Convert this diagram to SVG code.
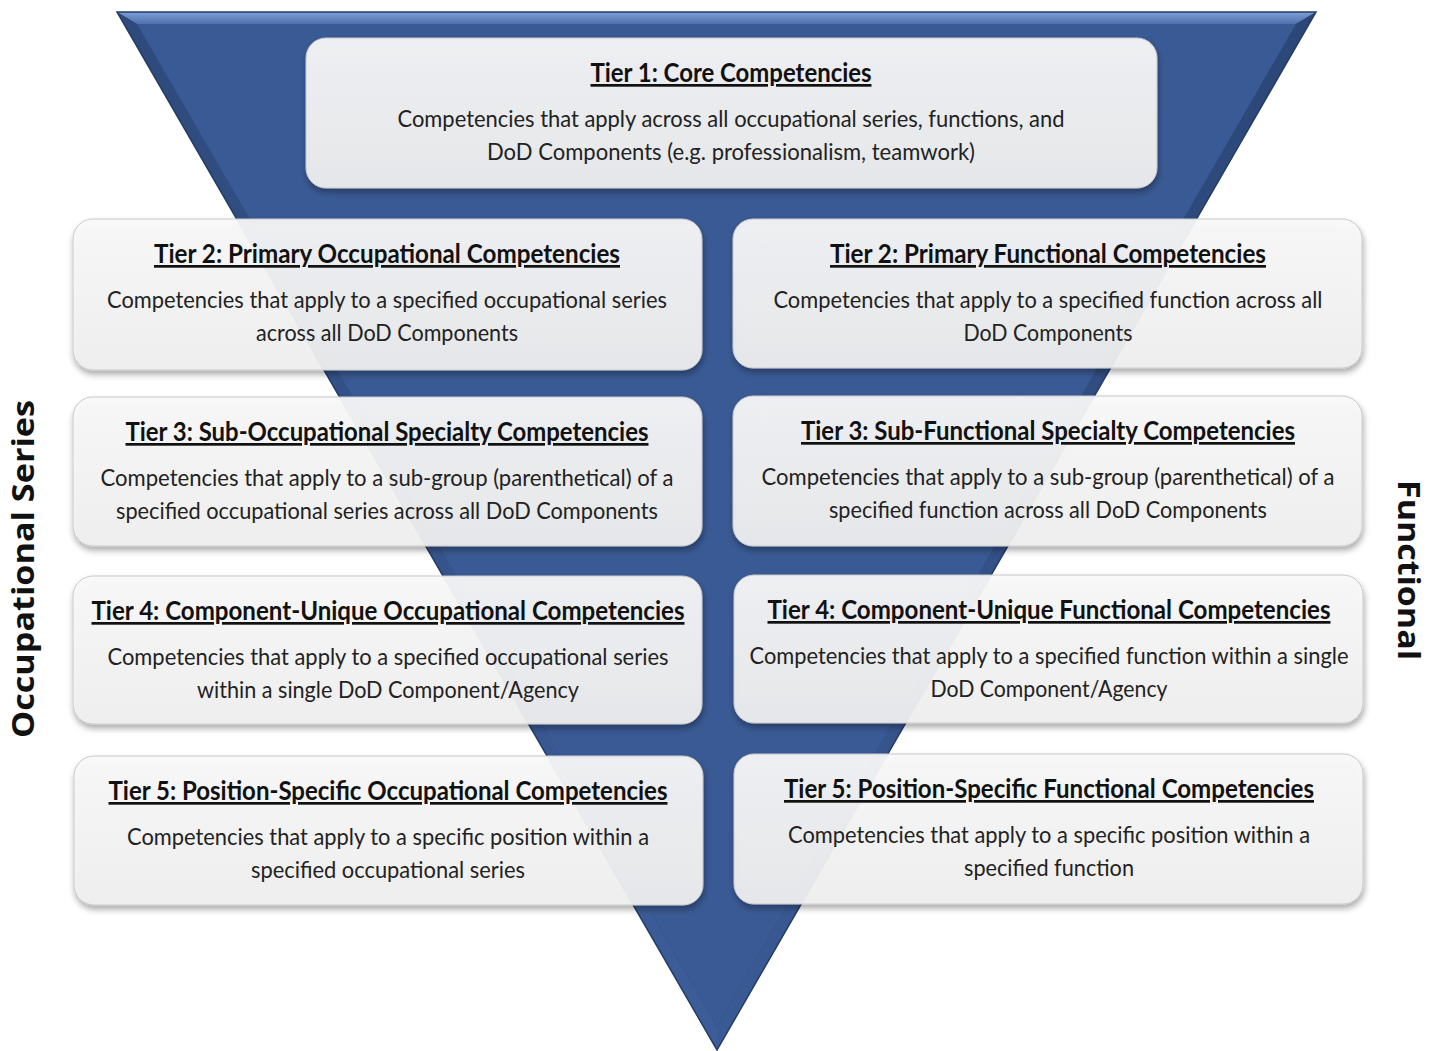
<svg xmlns="http://www.w3.org/2000/svg" width="1435" height="1051" viewBox="0 0 1435 1051">
  <style>
    .box { fill: url(#boxFill); stroke: #c9c9c9; stroke-width: 1; filter: url(#shadow); }
    .title { font-family: Lato, "Open Sans", "Liberation Sans", sans-serif; font-weight: bold; font-size: 27px; fill: #111; text-anchor: middle; text-decoration: underline; }
    .body { font-family: Lato, "Open Sans", "Liberation Sans", sans-serif; font-size: 23px; fill: #222; text-anchor: middle; }
    .side { font-family: "Open Sans", "DejaVu Sans", sans-serif; font-weight: bold; font-size: 31px; fill: #111; text-anchor: middle; }
  </style>
  <defs>
    <linearGradient id="boxFill" x1="0" y1="0" x2="0" y2="1">
      <stop offset="0" stop-color="#f9f9f9" stop-opacity="0.93"/>
      <stop offset="1" stop-color="#f0f0f0" stop-opacity="0.93"/>
    </linearGradient>
    <linearGradient id="topBevel" x1="0" y1="0" x2="0" y2="1">
      <stop offset="0" stop-color="#7e9ed6"/>
      <stop offset="1" stop-color="#4f70ad"/>
    </linearGradient>
    <linearGradient id="leftBevel" x1="0" y1="0" x2="1" y2="0">
      <stop offset="0" stop-color="#2e4a7c"/>
      <stop offset="1" stop-color="#3d5d99"/>
    </linearGradient>
    <linearGradient id="rightBevel" x1="1" y1="0" x2="0" y2="0">
      <stop offset="0" stop-color="#2b4677"/>
      <stop offset="1" stop-color="#3a5a95"/>
    </linearGradient>
    <filter id="shadow" x="-5%" y="-10%" width="110%" height="125%">
      <feDropShadow dx="1" dy="4" stdDeviation="3" flood-color="#000" flood-opacity="0.35"/>
    </filter>
  </defs>

  <!-- inverted pyramid with bevelled rim -->
  <g id="pyramid">
    <polygon points="117,12 1316,12 717,1050" fill="#2c4675"/>
    <polygon points="117,12 1316,12 1296,24 137,24" fill="url(#topBevel)"/>
    <polygon points="117,12 137,24 717,1027 717,1050" fill="url(#leftBevel)"/>
    <polygon points="1316,12 1296,24 717,1027 717,1050" fill="url(#rightBevel)"/>
    <polygon points="137,24 1296,24 717,1027" fill="#3a5a95"/>
    <polygon points="117,12 1316,12 717,1050" fill="none" stroke="#253c66" stroke-width="1.5"/>
  </g>

  <!-- side labels -->
  <text class="side" transform="translate(34,569) rotate(-90)" textLength="338" lengthAdjust="spacingAndGlyphs">Occupational Series</text>
  <text class="side" transform="translate(1398,570) rotate(90)" textLength="180" lengthAdjust="spacingAndGlyphs">Functional</text>

  <g id="tier1">
    <rect class="box" x="306" y="38" width="851" height="150" rx="20"/>
    <text class="title" x="731" y="82" textLength="281" lengthAdjust="spacingAndGlyphs">Tier 1: Core Competencies</text>
    <text class="body" x="731" y="127" textLength="667" lengthAdjust="spacingAndGlyphs">Competencies that apply across all occupational series, functions, and</text>
    <text class="body" x="731" y="160" textLength="488" lengthAdjust="spacingAndGlyphs">DoD Components (e.g. professionalism, teamwork)</text>
  </g>

  <g id="tier2-occupational">
    <rect class="box" x="73" y="219" width="629" height="151" rx="20"/>
    <text class="title" x="387" y="263" textLength="466" lengthAdjust="spacingAndGlyphs">Tier 2: Primary Occupational Competencies</text>
    <text class="body" x="387" y="308" textLength="560" lengthAdjust="spacingAndGlyphs">Competencies that apply to a specified occupational series</text>
    <text class="body" x="387" y="341" textLength="262" lengthAdjust="spacingAndGlyphs">across all DoD Components</text>
  </g>

  <g id="tier2-functional">
    <rect class="box" x="733" y="219" width="629" height="149" rx="20"/>
    <text class="title" x="1048" y="263" textLength="436" lengthAdjust="spacingAndGlyphs">Tier 2: Primary Functional Competencies</text>
    <text class="body" x="1048" y="308" textLength="549" lengthAdjust="spacingAndGlyphs">Competencies that apply to a specified function across all</text>
    <text class="body" x="1048" y="341" textLength="169" lengthAdjust="spacingAndGlyphs">DoD Components</text>
  </g>

  <g id="tier3-occupational">
    <rect class="box" x="73" y="397" width="629" height="149" rx="20"/>
    <text class="title" x="387" y="441" textLength="523" lengthAdjust="spacingAndGlyphs">Tier 3: Sub-Occupational Specialty Competencies</text>
    <text class="body" x="387" y="486" textLength="573" lengthAdjust="spacingAndGlyphs">Competencies that apply to a sub-group (parenthetical) of a</text>
    <text class="body" x="387" y="519" textLength="542" lengthAdjust="spacingAndGlyphs">specified occupational series across all DoD Components</text>
  </g>

  <g id="tier3-functional">
    <rect class="box" x="733" y="396" width="629" height="150" rx="20"/>
    <text class="title" x="1048" y="440" textLength="494" lengthAdjust="spacingAndGlyphs">Tier 3: Sub-Functional Specialty Competencies</text>
    <text class="body" x="1048" y="485" textLength="573" lengthAdjust="spacingAndGlyphs">Competencies that apply to a sub-group (parenthetical) of a</text>
    <text class="body" x="1048" y="518" textLength="438" lengthAdjust="spacingAndGlyphs">specified function across all DoD Components</text>
  </g>

  <g id="tier4-occupational">
    <rect class="box" x="73" y="576" width="629" height="148" rx="20"/>
    <text class="title" x="388" y="620" textLength="593" lengthAdjust="spacingAndGlyphs">Tier 4: Component-Unique Occupational Competencies</text>
    <text class="body" x="388" y="665" textLength="561" lengthAdjust="spacingAndGlyphs">Competencies that apply to a specified occupational series</text>
    <text class="body" x="388" y="698" textLength="382" lengthAdjust="spacingAndGlyphs">within a single DoD Component/Agency</text>
  </g>

  <g id="tier4-functional">
    <rect class="box" x="734" y="575" width="629" height="148" rx="20"/>
    <text class="title" x="1049" y="619" textLength="563" lengthAdjust="spacingAndGlyphs">Tier 4: Component-Unique Functional Competencies</text>
    <text class="body" x="1049" y="664" textLength="599" lengthAdjust="spacingAndGlyphs">Competencies that apply to a specified function within a single</text>
    <text class="body" x="1049" y="697" textLength="237" lengthAdjust="spacingAndGlyphs">DoD Component/Agency</text>
  </g>

  <g id="tier5-occupational">
    <rect class="box" x="74" y="756" width="629" height="149" rx="20"/>
    <text class="title" x="388" y="800" textLength="559" lengthAdjust="spacingAndGlyphs">Tier 5: Position-Specific Occupational Competencies</text>
    <text class="body" x="388" y="845" textLength="522" lengthAdjust="spacingAndGlyphs">Competencies that apply to a specific position within a</text>
    <text class="body" x="388" y="878" textLength="274" lengthAdjust="spacingAndGlyphs">specified occupational series</text>
  </g>

  <g id="tier5-functional">
    <rect class="box" x="734" y="754" width="629" height="150" rx="20"/>
    <text class="title" x="1049" y="798" textLength="530" lengthAdjust="spacingAndGlyphs">Tier 5: Position-Specific Functional Competencies</text>
    <text class="body" x="1049" y="843" textLength="522" lengthAdjust="spacingAndGlyphs">Competencies that apply to a specific position within a</text>
    <text class="body" x="1049" y="876" textLength="170" lengthAdjust="spacingAndGlyphs">specified function</text>
  </g>
</svg>
